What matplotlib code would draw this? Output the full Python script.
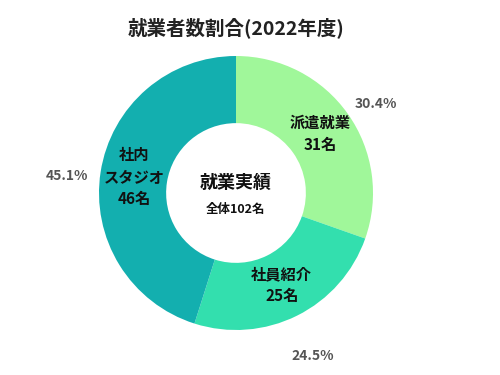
import matplotlib
matplotlib.use("Agg")
import matplotlib.pyplot as plt
import numpy as np

plt.rcParams["font.family"] = ["Noto Sans CJK JP", "DejaVu Sans"]

# データ
labels = ["派遣就業", "社員紹介", "社内\nスタジオ"]
counts = [31, 25, 46]
percents = ["30.4%", "24.5%", "45.1%"]
colors = ["#a0f79a", "#33dfae", "#13afaf"]
title = "就業者数割合(2022年度)"
center_main = "就業実績"
center_sub = f"全体{sum(counts)}名"

W, H = 500, 375
cx, cy, R = 236, 182, 137   # 中心(px, 下から)と外径px

fig = plt.figure(figsize=(W / 100, H / 100), dpi=100)
ax = fig.add_axes([0, 0, 1, 1])

wedges, _ = ax.pie(counts, colors=colors, startangle=90, counterclock=False,
                   radius=1.0, wedgeprops=dict(width=0.49, linewidth=0))
# pie() がリミットを上書きするので後で設定
ax.set_aspect("auto")
ax.set_xlim(-cx / R, (W - cx) / R)
ax.set_ylim(-cy / R, (H - cy) / R)
ax.axis("off")

for w, lab, n, pct in zip(wedges, labels, counts, percents):
    ang = np.radians((w.theta1 + w.theta2) / 2)
    ax.text(0.75 * np.cos(ang), 0.75 * np.sin(ang), f"{lab}\n{n}名",
            ha="center", va="center", fontsize=11, fontweight="bold",
            color="#111111", linespacing=1.45)
    ax.annotate(pct, (1.25 * np.cos(ang), 1.25 * np.sin(ang)),
                xytext=(0, -7), textcoords="offset points",
                ha="center", va="center", fontsize=10, fontweight="bold",
                color="#555555")

ax.text(0, 0.08, center_main, ha="center", va="center", fontsize=13,
        fontweight="bold", color="#111111")
ax.text(0, -0.12, center_sub, ha="center", va="center", fontsize=9,
        fontweight="bold", color="#111111")

fig.text(cx / W, 1 - 28 / H, title, ha="center", va="center", fontsize=14,
         fontweight="bold", color="#222222")

fig.savefig("out.png", dpi=100, facecolor="white")
